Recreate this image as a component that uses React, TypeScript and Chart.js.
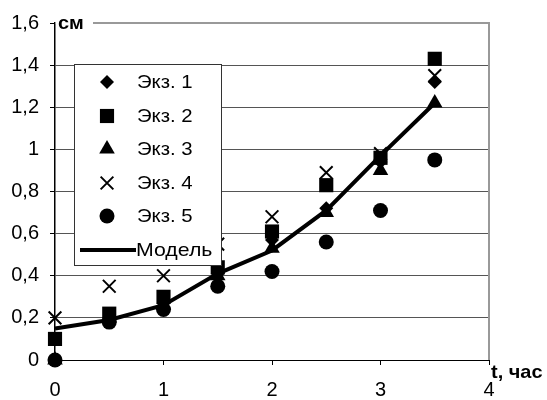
import React, { useEffect, useRef } from "react";
import { Chart, registerables } from "chart.js";

Chart.register(...registerables);

// ---- data ----
const tHours = [0, 0.5, 1, 1.5, 2, 2.5, 3, 3.5];
const ekz1 = [0, 0.2, 0.27, 0.41, 0.57, 0.72, 0.94, 1.32];
const ekz2 = [0.1, 0.22, 0.3, 0.44, 0.61, 0.83, 0.96, 1.43];
const ekz3 = [0, 0.2, 0.26, 0.4, 0.53, 0.7, 0.9, 1.22];
const ekz4 = [0.2, 0.35, 0.4, 0.55, 0.68, 0.89, 0.98, 1.35];
const ekz5 = [0, 0.18, 0.24, 0.35, 0.42, 0.56, 0.71, 0.95];
const model = [0.15, 0.19, 0.26, 0.41, 0.52, 0.71, 0.97, 1.22];
const seriesLabels = ["Экз. 1", "Экз. 2", "Экз. 3", "Экз. 4", "Экз. 5", "Модель"];
const yAxisTitle = "см";
const xAxisTitle = "t, час";

const FONT = '"Liberation Sans", Arial, sans-serif';

const toXY = (ys: number[]) => tHours.map((x, i) => ({ x, y: ys[i] }));

const pointStyles = ["rectRot", "rect", "triangle", "crossRot", "circle"];
const pointRadii = [7, 10, 9, 9, 7.5];

function drawMarker(ctx: CanvasRenderingContext2D, style: string, r: number, x: number, y: number) {
  ctx.save();
  ctx.fillStyle = "#000";
  ctx.strokeStyle = "#000";
  ctx.beginPath();
  if (style === "rectRot") {
    ctx.moveTo(x, y - r);
    ctx.lineTo(x + r, y);
    ctx.lineTo(x, y + r);
    ctx.lineTo(x - r, y);
    ctx.closePath();
    ctx.fill();
  } else if (style === "rect") {
    const s = Math.SQRT1_2 * r;
    ctx.rect(x - s, y - s, 2 * s, 2 * s);
    ctx.fill();
  } else if (style === "triangle") {
    const a = (2 * Math.PI) / 3;
    ctx.moveTo(x, y - r);
    ctx.lineTo(x + Math.sin(a) * r, y - Math.cos(a) * r);
    ctx.lineTo(x + Math.sin(2 * a) * r, y - Math.cos(2 * a) * r);
    ctx.closePath();
    ctx.fill();
  } else if (style === "crossRot") {
    const o = Math.SQRT1_2 * r;
    ctx.lineWidth = 2;
    ctx.moveTo(x - o, y - o);
    ctx.lineTo(x + o, y + o);
    ctx.moveTo(x - o, y + o);
    ctx.lineTo(x + o, y - o);
    ctx.stroke();
  } else {
    ctx.arc(x, y, r, 0, Math.PI * 2);
    ctx.fill();
  }
  ctx.restore();
}

function wideText(ctx: CanvasRenderingContext2D, text: string, x: number, y: number, sx: number) {
  ctx.save();
  ctx.translate(x, y);
  ctx.scale(sx, 1);
  ctx.fillText(text, 0, 0);
  ctx.restore();
}

const overlayPlugin = {
  id: "overlay",
  afterDatasetsDraw(chart: any) {
    const { ctx, chartArea } = chart;
    ctx.save();
    // plot-area border (top & right)
    ctx.strokeStyle = "#999";
    ctx.lineWidth = 2;
    ctx.beginPath();
    ctx.moveTo(chartArea.left, chartArea.top);
    ctx.lineTo(chartArea.right, chartArea.top);
    ctx.lineTo(chartArea.right, chartArea.bottom);
    ctx.stroke();

    // y-axis title with white backing
    ctx.fillStyle = "#fff";
    ctx.fillRect(chartArea.left + 1, chartArea.top - 9, 37, 18);
    ctx.fillStyle = "#000";
    ctx.font = `bold 19px ${FONT}`;
    ctx.textAlign = "left";
    ctx.textBaseline = "middle";
    wideText(ctx, yAxisTitle, chartArea.left + 3, chartArea.top + 1, 1.05);

    // x-axis title
    wideText(ctx, xAxisTitle, chartArea.right + 2, chartArea.bottom + 13, 1.05);

    // legend box
    const lx = 74.5, ly = 64.5, lw = 147, lh = 201;
    ctx.fillStyle = "#fff";
    ctx.fillRect(lx, ly, lw, lh);
    ctx.strokeStyle = "#333";
    ctx.lineWidth = 1;
    ctx.strokeRect(lx, ly, lw, lh);
    const rowY = [82, 116, 149, 183, 216, 250];
    ctx.font = `19px ${FONT}`;
    ctx.textBaseline = "middle";
    for (let i = 0; i < seriesLabels.length; i++) {
      const y = rowY[i];
      if (i < 5) {
        drawMarker(ctx, pointStyles[i], pointRadii[i], 107, y);
        ctx.fillStyle = "#000";
        wideText(ctx, seriesLabels[i], 137, y + 1, 1.07);
      } else {
        ctx.strokeStyle = "#000";
        ctx.lineWidth = 4;
        ctx.beginPath();
        ctx.moveTo(80, y);
        ctx.lineTo(136, y);
        ctx.stroke();
        ctx.fillStyle = "#000";
        wideText(ctx, seriesLabels[i], 136, y + 1, 1.12);
      }
    }
    ctx.restore();
  },
};

export default function App() {
  const ref = useRef<HTMLCanvasElement>(null);

  useEffect(() => {
    if (!ref.current) return;
    const ekz = [ekz1, ekz2, ekz3, ekz4, ekz5];
    const pointDatasets = ekz.map((vals, i) => ({
      label: seriesLabels[i],
      data: toXY(vals),
      showLine: false,
      pointStyle: pointStyles[i],
      pointRadius: pointRadii[i],
      pointHoverRadius: pointRadii[i],
      backgroundColor: "#000",
      borderColor: "#000",
      pointBorderWidth: pointStyles[i] === "crossRot" ? 2 : 0,
      clip: false as any,
      order: 5 - i,
    }));
    const chart = new Chart(ref.current, {
      type: "scatter",
      data: {
        datasets: [
          ...pointDatasets,
          {
            label: seriesLabels[5],
            data: toXY(model),
            showLine: true,
            borderColor: "#000",
            backgroundColor: "#000",
            borderWidth: 4,
            pointRadius: 0,
            pointHoverRadius: 0,
            clip: false as any,
            order: 0,
          } as any,
        ],
      },
      options: {
        responsive: false,
        animation: false,
        devicePixelRatio: 1,
        layout: { padding: { top: 21, right: 58, left: 0, bottom: 0 } },
        plugins: { legend: { display: false }, tooltip: { enabled: false } },
        scales: {
          x: {
            type: "linear",
            min: 0,
            max: 4,
            afterFit: (s: any) => {
              s.height = 40;
            },
            ticks: {
              stepSize: 1,
              color: "#000",
              padding: 13,
              font: { family: FONT, size: 20 },
              callback: (v: any) => String(v),
            },
            grid: { drawOnChartArea: false, drawTicks: true, tickLength: 5, tickColor: "#000" },
            border: { display: true, color: "#000", width: 1 },
          },
          y: {
            type: "linear",
            min: 0,
            max: 1.6,
            afterFit: (s: any) => {
              s.width = 55;
            },
            ticks: {
              stepSize: 0.2,
              color: "#000",
              padding: 11,
              font: { family: FONT, size: 20 },
              callback: (v: any) => (Math.round(Number(v) * 10) / 10).toString().replace(".", ","),
            },
            grid: {
              drawOnChartArea: true,
              drawTicks: true,
              tickLength: 5,
              tickColor: "#000",
              color: (c: any) => (c.tick && Math.abs(c.tick.value - 1.6) < 1e-6 ? "rgba(0,0,0,0)" : "#555"),
              lineWidth: 1,
            },
            border: { display: true, color: "#000", width: 1.5 },
          },
        },
      } as any,
      plugins: [overlayPlugin],
    });
    return () => chart.destroy();
  }, []);

  return (
    <div style={{ position: "fixed", left: 0, top: 0, width: 547, height: 400, background: "#fff" }}>
      <canvas ref={ref} width={547} height={400} style={{ width: 547, height: 400, display: "block" }} />
    </div>
  );
}
